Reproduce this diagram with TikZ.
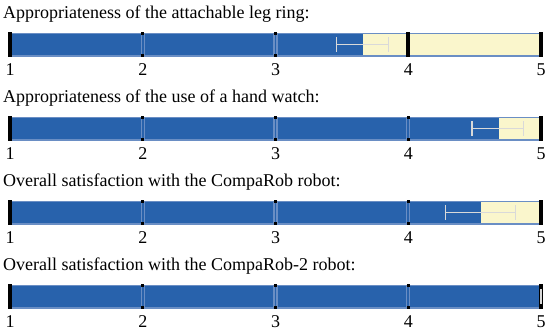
\documentclass[tikz,border=0pt]{standalone}
\usepackage{fontspec}
\setmainfont{Liberation Serif}
\usetikzlibrary{positioning}
\definecolor{barblue}{HTML}{2862AC}
\definecolor{cellyellow}{HTML}{FAF6CC}
\definecolor{cellline}{HTML}{6A8EC4}
\definecolor{errgray}{HTML}{D9D9D9}

\begin{document}
\begin{tikzpicture}[x=1pt,y=-1pt,
  title node/.style={anchor=base west,inner sep=0pt,font=\fontsize{18}{21}\selectfont},
  scale node/.style={anchor=center,inner sep=0pt,font=\fontsize{18}{21}\selectfont},
  cell/.style={fill=cellyellow},
  cell border/.style={draw=cellline,line width=1.2pt},
  mean bar/.style={fill=barblue},
  err bar/.style={draw=errgray,line width=1.3pt},
  tick mark/.style={fill=black}]
\useasboundingbox (0,0) rectangle (546,336);
% one row per question: offset / mean / low / high / title
\foreach \off/\m/\lo/\hi/\txt [count=\r] in {
  0/3.66/3.46/3.85/{Appropriateness of the attachable leg ring:},
  84/4.68/4.48/4.87/{Appropriateness of the use of a hand watch:},
  168/4.55/4.28/4.81/{Overall satisfaction with the CompaRob robot:},
  252/5/5/5/{Overall satisfaction with the CompaRob-2 robot:}}{
  \pgfmathsetmacro{\top}{33.5+\off}
  \pgfmathsetmacro{\bot}{56+\off}
  \pgfmathsetmacro{\mid}{44.75+\off}
  \node[title node] (title\r) at (3,{19+\off}) {\txt};
  % cells
  \foreach \k in {1,...,4}{
    \fill[cell] ({10+(\k-1)*132.75+1.5},\top) rectangle ({10+\k*132.75-1.5},\bot);
  }
  \fill[mean bar] (10,\top) rectangle ({10+(\m-1)*132.75},\bot);
  \foreach \k in {1,...,4}{
    \draw[cell border] ({10+(\k-1)*132.75+1.5},\top) rectangle ({10+\k*132.75-1.5},\bot);
  }
  % error bar
  \draw[err bar] ({10+(\lo-1)*132.75},\mid) -- ({10+(\hi-1)*132.75},\mid);
  \draw[err bar] ({10+(\lo-1)*132.75},{\mid-7.5}) -- ({10+(\lo-1)*132.75},{\mid+7.5});
  \draw[err bar] ({10+(\hi-1)*132.75},{\mid-7.5}) -- ({10+(\hi-1)*132.75},{\mid+7.5});
  % ticks
  \foreach \v in {2,3,4}{
    \fill[tick mark] ({10+(\v-1)*132.75-1.5},{\top-1}) rectangle ({10+(\v-1)*132.75+1.5},{\top+2});
    \fill[tick mark] ({10+(\v-1)*132.75-1.5},{\bot-2}) rectangle ({10+(\v-1)*132.75+1.5},{\bot+1});
  }
  \foreach \v in {1,5}{
    \fill[tick mark] ({10+(\v-1)*132.75-1.7},{\top-1}) rectangle ({10+(\v-1)*132.75+1.7},{\bot+1});
  }
  % scale labels
  \foreach \v in {1,...,5}{
    \node[scale node] (lab\r\v) at ({10+(\v-1)*132.75},{70+\off}) {\v};
  }
}
% extra mark at 4 in the first row
\fill[tick mark] ({10+3*132.75-2},32.5) rectangle ({10+3*132.75+2},57);
% zero-width error bar of the last row
\draw[err bar] (541,{296.75-7.5}) -- (541,{296.75+7.5});
\end{tikzpicture}
\end{document}
